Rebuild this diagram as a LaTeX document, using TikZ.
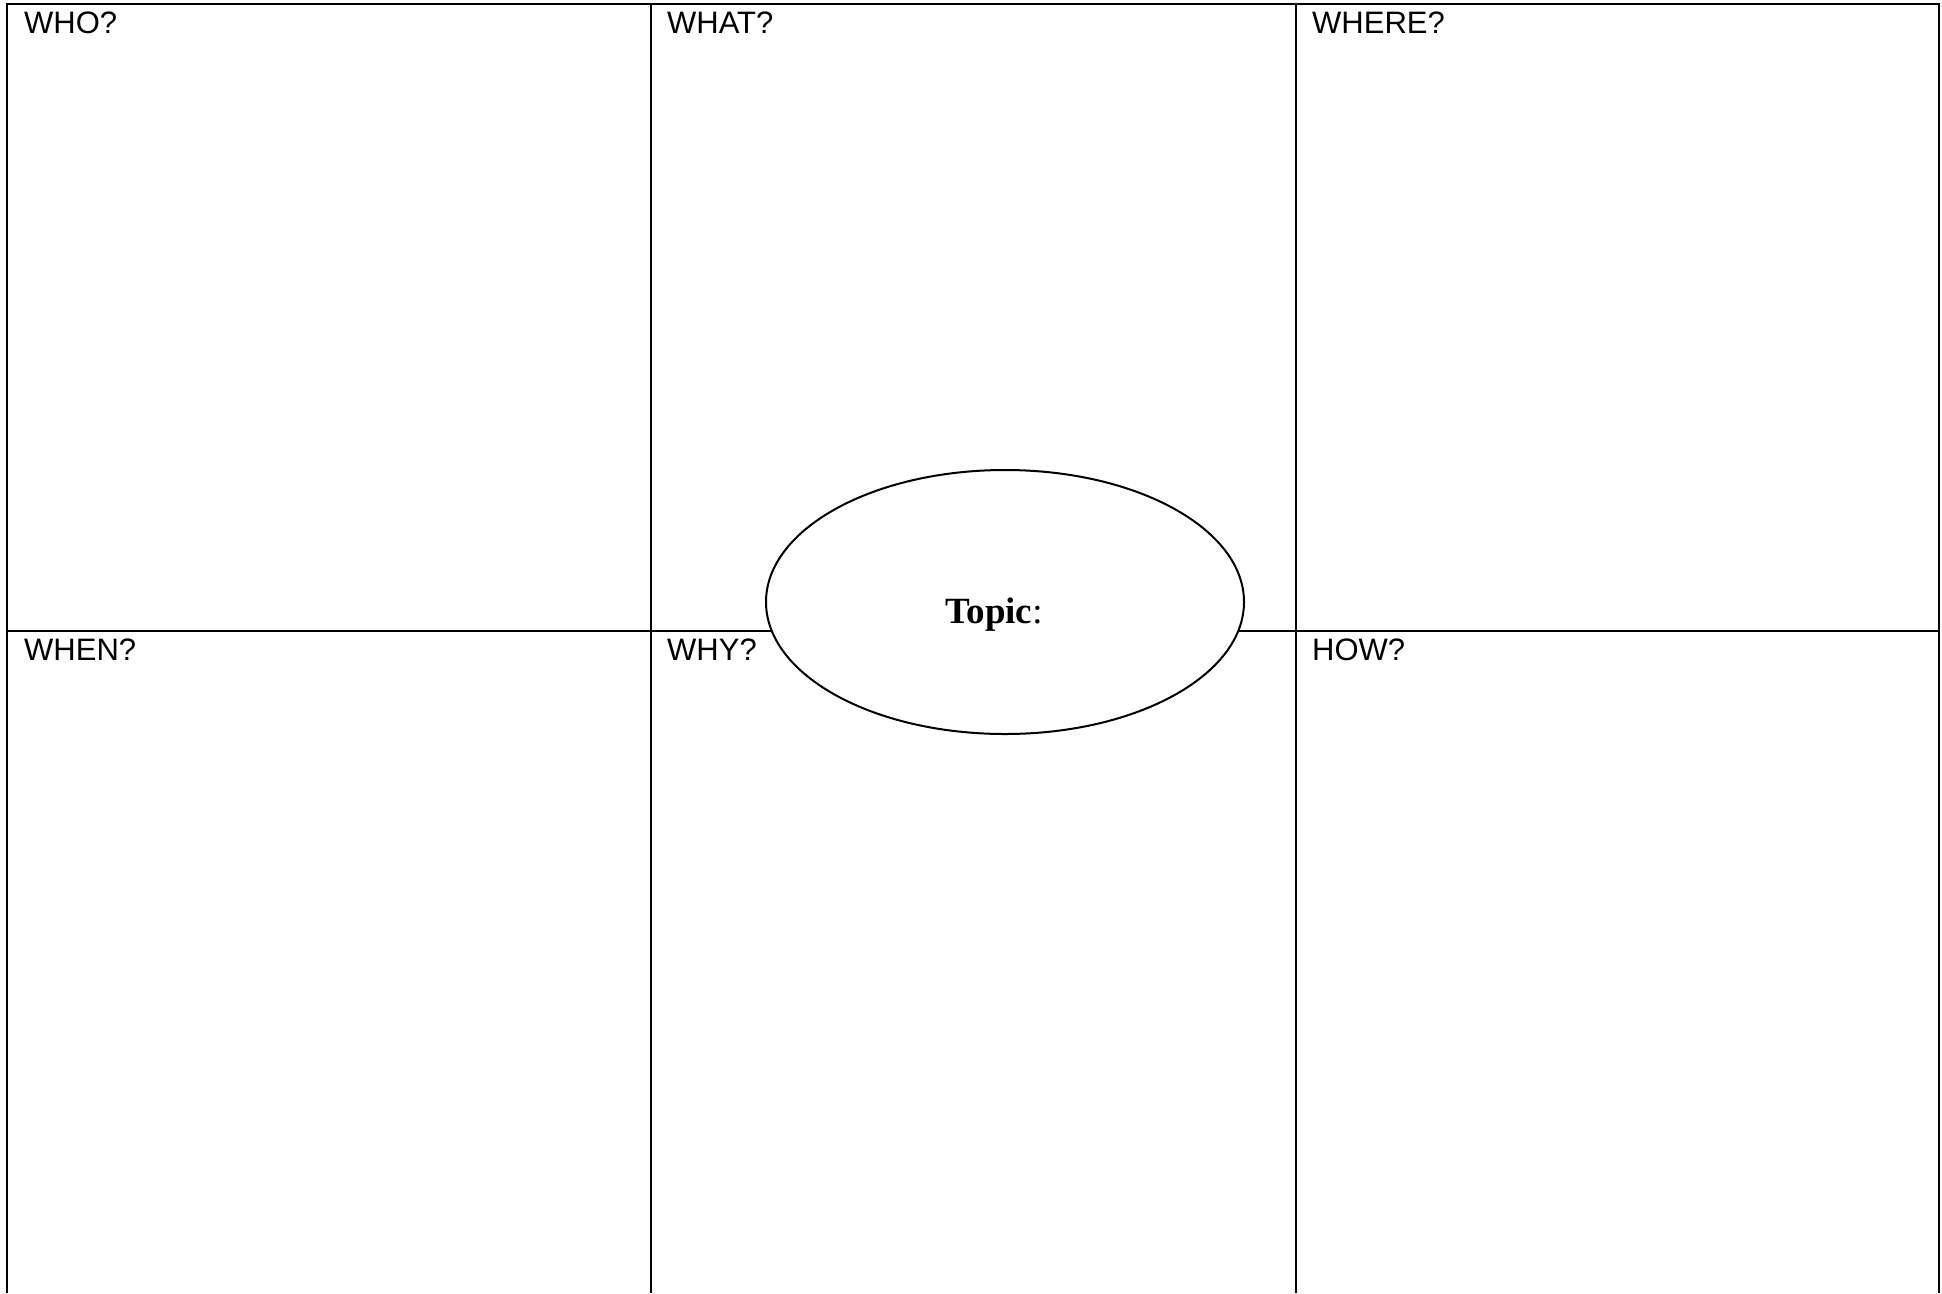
\documentclass[tikz,border=0pt]{standalone}
\usepackage{fontspec}
\setmainfont{Liberation Serif}
\setsansfont{Liberation Sans}
\usetikzlibrary{shapes.geometric}
\begin{document}
\begin{tikzpicture}[x=1pt,y=-1pt,
  grid/.style={line width=2pt,black},
  lbl/.style={anchor=base west,inner sep=0pt,font=\sffamily\fontsize{31}{36}\selectfont},
  topicshape/.style={ellipse,draw,line width=2pt,fill=white,minimum width=478pt,minimum height=264pt,inner sep=0pt}
]
\useasboundingbox (0,0) rectangle (1942,1293);
% grid
\draw[grid] (7,1293) -- (7,4) -- (1939,4) -- (1939,1293);
\draw[grid] (7,631) -- (1939,631);
\draw[grid] (651,4) -- (651,1293);
\draw[grid] (1296,4) -- (1296,1293);
% labels
\node[lbl] (who) at (24,33) {WHO?};
\node[lbl] (what) at (667,33) {WHAT?};
\node[lbl] (where) at (1312,33) {WHERE?};
\node[lbl] (when) at (24,660) {WHEN?};
\node[lbl] (why) at (667,660) {WHY?};
\node[lbl] (how) at (1312,660) {HOW?};
% topic ellipse
\node[topicshape] (topic) at (1005,602) {};
\node[anchor=base west,inner sep=0pt,font=\fontsize{37}{42}\selectfont] (topiclbl) at (945,623) {\textbf{Topic}:};
\end{tikzpicture}
\end{document}
